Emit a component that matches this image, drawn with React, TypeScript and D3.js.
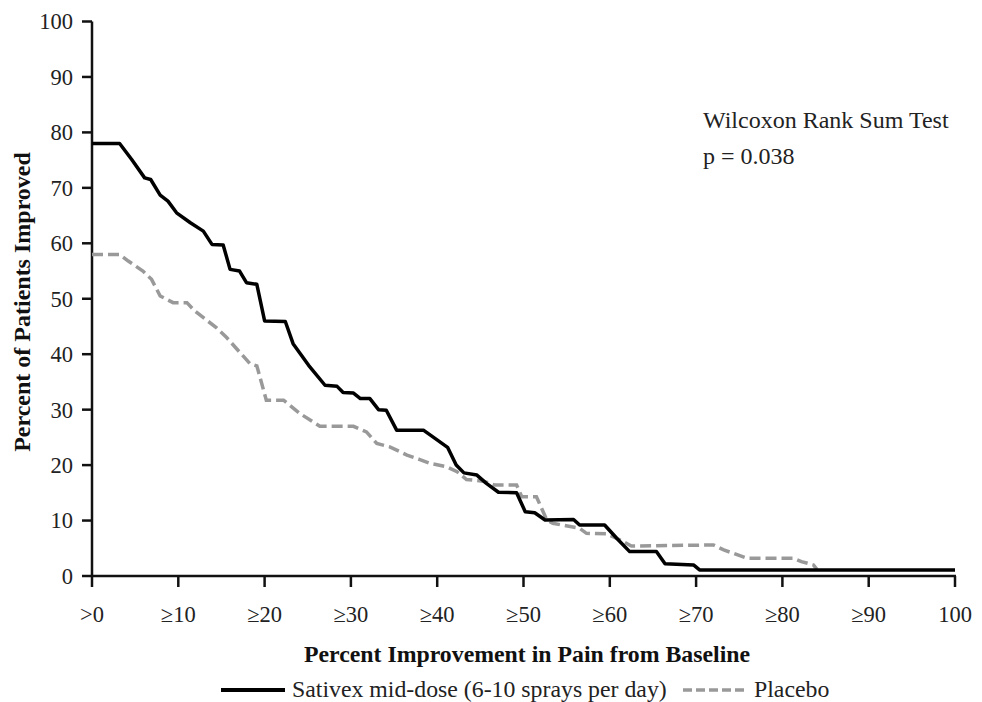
import React from "react";
import * as d3 from "d3";

// values
const xTicks = [0, 10, 20, 30, 40, 50, 60, 70, 80, 90, 100];
const xTickLabels = [">0", "≥10", "≥20", "≥30", "≥40", "≥50", "≥60", "≥70", "≥80", "≥90", "100"];
const yTicks = [0, 10, 20, 30, 40, 50, 60, 70, 80, 90, 100];

const sativexX = [0, 3.2, 4.6, 6.1, 6.8, 7.9, 8.8, 9.8, 11.4, 12.9, 13.9, 15.2, 16.0, 17.1, 17.9, 19.1, 20.0, 22.4, 23.3, 25.1, 27.0, 28.4, 29.1, 30.3, 31.1, 32.2, 33.2, 34.1, 35.3, 38.4, 39.5, 41.2, 42.2, 43.1, 44.6, 45.7, 47.1, 49.2, 50.2, 51.3, 52.5, 55.8, 56.5, 59.4, 60.8, 62.3, 65.4, 66.4, 69.7, 70.4, 100];
const sativexY = [78, 78, 75.1, 71.8, 71.5, 68.7, 67.6, 65.5, 63.7, 62.2, 59.8, 59.7, 55.3, 55.0, 52.9, 52.6, 46.0, 45.9, 41.9, 38.0, 34.4, 34.2, 33.1, 33.0, 32.0, 32.0, 30.0, 29.9, 26.3, 26.3, 25.1, 23.2, 20.0, 18.6, 18.2, 16.7, 15.1, 15.0, 11.6, 11.4, 10.1, 10.2, 9.2, 9.2, 6.8, 4.4, 4.4, 2.2, 2.0, 1.1, 1.1];

const placeboX = [0, 3.2, 4.2, 5.9, 6.9, 7.9, 9.4, 11.0, 11.9, 14.4, 15.6, 18.3, 19.1, 20.2, 22.2, 24.1, 26.4, 30.3, 31.8, 33.0, 34.5, 36.5, 38.0, 39.2, 41.1, 42.3, 43.4, 45.3, 46.7, 49.2, 49.8, 51.5, 52.7, 53.4, 56.5, 57.3, 59.6, 61.2, 62.5, 72.0, 73.2, 74.3, 75.9, 81.3, 82.2, 83.6, 84.0];
const placeboY = [58, 58, 56.8, 55.0, 53.5, 50.5, 49.3, 49.3, 47.8, 44.8, 43.0, 38.3, 37.9, 31.7, 31.7, 29.3, 27.0, 27.0, 26.0, 23.9, 23.3, 21.8, 21.0, 20.3, 19.7, 18.8, 17.4, 17.1, 16.4, 16.4, 14.3, 14.3, 10.1, 9.5, 8.6, 7.7, 7.6, 6.5, 5.4, 5.6, 4.7, 4.1, 3.2, 3.2, 2.6, 2.0, 1.2];

const seriesNames = ["Sativex mid-dose (6-10 sprays per day)", "Placebo"];
const noteLines = ["Wilcoxon Rank Sum Test", "p = 0.038"];

const W = 982;
const H = 702;
const FONT = "'Liberation Serif', 'Times New Roman', serif";

export default function App() {
  const x = d3.scaleLinear().domain([0, 100]).range([92, 955]);
  const y = d3.scaleLinear().domain([0, 100]).range([576, 21.5]);

  const line = d3
    .line<[number, number]>()
    .x((d) => x(d[0]))
    .y((d) => y(d[1]));

  const sativex = sativexX.map((v, i) => [v, sativexY[i]] as [number, number]);
  const placebo = placeboX.map((v, i) => [v, placeboY[i]] as [number, number]);

  return (
    <svg
      width={W}
      height={H}
      style={{ position: "absolute", left: 0, top: 0, background: "#fff" }}
      fontFamily={FONT}
    >
      {/* y axis */}
      <line x1={x(0)} x2={x(0)} y1={y(0) + 1} y2={y(100)} stroke="#111" strokeWidth={2.5} />
      {yTicks.map((t) => (
        <g key={"y" + t}>
          <line x1={x(0) - 10} x2={x(0)} y1={y(t)} y2={y(t)} stroke="#111" strokeWidth={2.5} />
          <text x={73} y={y(t)} dy="0.35em" textAnchor="end" fontSize={22.5} fill="#222">
            {t}
          </text>
        </g>
      ))}

      {/* x axis */}
      <line x1={x(0) - 1} x2={x(100) + 1} y1={y(0)} y2={y(0)} stroke="#111" strokeWidth={2.5} />
      {xTicks.map((t, i) => (
        <g key={"x" + t}>
          <line x1={x(t)} x2={x(t)} y1={y(0)} y2={y(0) + 11} stroke="#111" strokeWidth={2.5} />
          <text x={x(t)} y={622} textAnchor="middle" fontSize={22.5} fill="#222">
            {xTickLabels[i]}
          </text>
        </g>
      ))}

      {/* series */}
      <path d={line(placebo) || ""} fill="none" stroke="#999" strokeWidth={3.5} strokeDasharray="11,5" />
      <path d={line(sativex) || ""} fill="none" stroke="#000" strokeWidth={3.5} strokeLinejoin="round" />

      {/* note */}
      <text x={703} y={128} fontSize={24} fill="#222">
        {noteLines[0]}
      </text>
      <text x={703} y={164} fontSize={24} fill="#222">
        {noteLines[1]}
      </text>

      {/* axis titles */}
      <text
        transform={`translate(30, 302) rotate(-90)`}
        textAnchor="middle"
        fontSize={24}
        fontWeight="bold"
        fill="#111"
      >
        Percent of Patients Improved
      </text>
      <text x={527} y={662} textAnchor="middle" fontSize={23.8} fontWeight="bold" fill="#111">
        Percent Improvement in Pain from Baseline
      </text>

      {/* legend */}
      <line x1={221} x2={285} y1={690} y2={690} stroke="#000" strokeWidth={4} />
      <text x={292} y={697} fontSize={23.8} fill="#222">
        {seriesNames[0]}
      </text>
      <line x1={683} x2={748} y1={690} y2={690} stroke="#999" strokeWidth={3.5} strokeDasharray="9,4" />
      <text x={754} y={697} fontSize={23.8} fill="#222">
        {seriesNames[1]}
      </text>
    </svg>
  );
}
